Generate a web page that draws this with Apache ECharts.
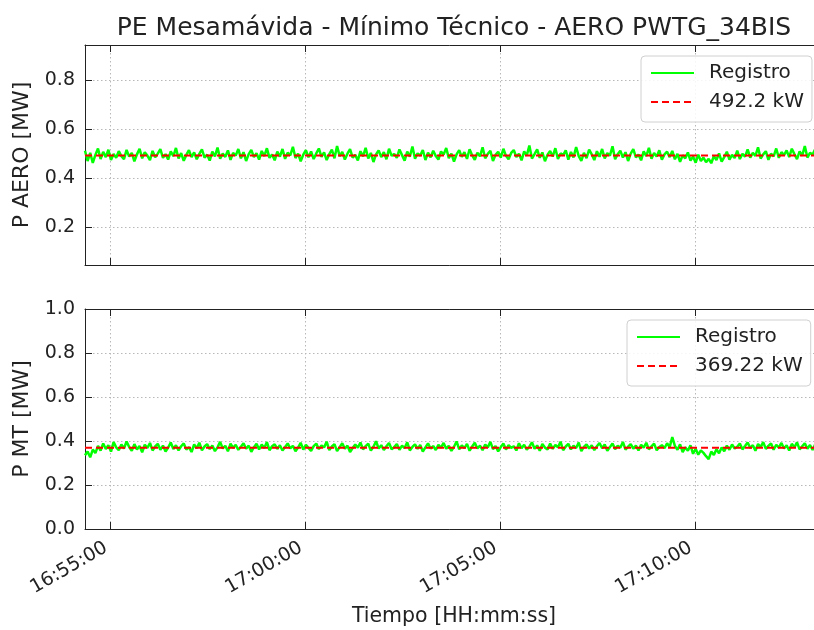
<!DOCTYPE html>
<html>
<head>
<meta charset="utf-8">
<script src="https://cdn.jsdelivr.net/npm/echarts@6/dist/echarts.min.js"></script>
<style>html,body{margin:0;padding:0;background:#fff}#c{width:814px;height:630px}</style>
</head>
<body>
<div id="c"></div>
<script>
// ---- data ----
const titleText = 'PE Mesamávida - Mínimo Técnico - AERO PWTG_34BIS';
const startTime = '16:54:21';
const stepSeconds = 4;
const xMinTime = '16:54:21';
const xMaxTime = '17:13:17';
const xTickLabels = ['16:55:00', '17:00:00', '17:05:00', '17:10:00'];
const yTicksTop = [0.2, 0.4, 0.6, 0.8];
const yTicksBottom = [0.0, 0.2, 0.4, 0.6, 0.8, 1.0];
const meanAero = 0.4922;
const meanMT = 0.36922;
const legendAero = '492.2 kW';
const legendMT = '369.22 kW';
const pAero = [
0.512,0.470,0.503,0.462,0.495,0.521,0.478,0.507,0.486,0.516,0.474,0.499,0.483,0.510,0.490,
0.478,0.515,0.488,0.503,0.469,0.497,0.520,0.481,0.506,0.492,0.474,0.511,0.485,0.500,0.518,
0.483,0.498,0.476,0.509,0.490,0.523,0.480,0.502,0.471,0.495,0.514,0.486,0.505,0.477,0.499,
0.517,0.484,0.496,0.472,0.508,0.489,0.525,0.479,0.500,0.487,0.513,0.475,0.503,0.492,0.519,
0.481,0.506,0.470,0.498,0.515,0.486,0.502,0.476,0.511,0.490,0.522,0.483,0.497,0.473,0.508,
0.488,0.519,0.479,0.504,0.493,0.528,0.482,0.500,0.469,0.496,0.514,0.485,0.509,0.478,0.501,
0.521,0.487,0.505,0.474,0.498,0.516,0.481,0.531,0.490,0.507,0.476,0.500,0.518,0.484,0.495,
0.472,0.510,0.489,0.524,0.480,0.503,0.466,0.497,0.513,0.486,0.506,0.477,0.520,0.491,0.499,
0.483,0.517,0.494,0.471,0.508,0.488,0.529,0.479,0.501,0.492,0.515,0.474,0.504,0.485,0.512,
0.490,0.476,0.509,0.496,0.523,0.482,0.500,0.468,0.497,0.514,0.487,0.506,0.479,0.518,0.493,
0.475,0.504,0.489,0.526,0.481,0.499,0.512,0.470,0.495,0.508,0.484,0.520,0.491,0.477,0.503,
0.515,0.486,0.500,0.473,0.509,0.492,0.533,0.480,0.498,0.517,0.483,0.505,0.469,0.496,0.511,
0.488,0.522,0.478,0.501,0.494,0.513,0.476,0.507,0.485,0.527,0.490,0.471,0.503,0.482,0.516,
0.497,0.474,0.510,0.487,0.519,0.481,0.502,0.492,0.530,0.477,0.498,0.512,0.484,0.506,0.470,
0.500,0.518,0.485,0.496,0.473,0.509,0.490,0.524,0.479,0.503,0.488,0.514,0.475,0.497,0.508,
0.486,0.511,0.477,0.499,0.467,0.493,0.481,0.505,0.472,0.488,0.463,0.496,0.470,0.484,0.465,
0.479,0.461,0.490,0.474,0.501,0.468,0.486,0.508,0.476,0.495,0.482,0.512,0.478,0.499,0.488,
0.517,0.484,0.503,0.491,0.526,0.480,0.497,0.510,0.475,0.500,0.489,0.521,0.483,0.506,0.494,
0.513,0.486,0.520,0.498,0.478,0.509,0.492,0.531,0.484,0.503,0.496,0.518,0.481,0.507,0.500
];
const pMT = [
0.335,0.352,0.326,0.361,0.345,0.378,0.356,0.389,0.364,0.381,0.352,0.395,0.371,0.358,0.384,
0.366,0.398,0.373,0.355,0.386,0.362,0.377,0.349,0.383,0.368,0.391,0.357,0.375,0.387,0.360,
0.379,0.352,0.370,0.393,0.364,0.381,0.357,0.376,0.389,0.361,0.372,0.350,0.384,0.367,0.392,
0.358,0.375,0.386,0.363,0.380,0.354,0.371,0.396,0.366,0.378,0.353,0.388,0.369,0.382,0.360,
0.374,0.390,0.365,0.379,0.351,0.372,0.387,0.362,0.384,0.368,0.395,0.358,0.376,0.385,0.364,
0.381,0.357,0.373,0.389,0.366,0.378,0.353,0.370,0.392,0.361,0.383,0.369,0.355,0.377,0.388,
0.363,0.380,0.371,0.397,0.359,0.375,0.386,0.354,0.372,0.390,0.365,0.379,0.350,0.368,0.384,
0.370,0.393,0.362,0.377,0.388,0.356,0.374,0.399,0.366,0.381,0.359,0.376,0.391,0.363,0.372,
0.386,0.360,0.379,0.368,0.394,0.357,0.373,0.385,0.364,0.382,0.352,0.371,0.389,0.366,0.377,
0.359,0.383,0.370,0.391,0.365,0.378,0.355,0.374,0.398,0.362,0.380,0.368,0.387,0.356,0.375,
0.392,0.366,0.379,0.358,0.384,0.371,0.396,0.363,0.377,0.353,0.372,0.389,0.361,0.381,0.369,
0.376,0.357,0.390,0.367,0.383,0.360,0.374,0.394,0.365,0.380,0.356,0.386,0.370,0.362,0.388,
0.364,0.382,0.371,0.397,0.358,0.375,0.387,0.362,0.379,0.368,0.393,0.354,0.373,0.385,0.366,
0.380,0.359,0.376,0.391,0.367,0.384,0.355,0.372,0.389,0.363,0.378,0.369,0.396,0.361,0.374,
0.386,0.365,0.379,0.357,0.383,0.370,0.392,0.362,0.376,0.388,0.358,0.373,0.381,0.367,0.390,
0.372,0.418,0.378,0.360,0.385,0.349,0.371,0.356,0.380,0.342,0.365,0.338,0.357,0.346,0.331,
0.318,0.352,0.336,0.363,0.344,0.371,0.353,0.379,0.360,0.384,0.366,0.374,0.389,0.362,0.377,
0.393,0.368,0.381,0.356,0.386,0.372,0.395,0.364,0.378,0.389,0.360,0.383,0.370,0.391,0.366,
0.380,0.357,0.387,0.371,0.394,0.362,0.376,0.390,0.365,0.382,0.359,0.385,0.373,0.396,0.368
];

// ---- helpers ----
function toSec(hms) { const p = hms.split(':').map(Number); return p[0]*3600 + p[1]*60 + p[2]; }
function pad(n) { return (n < 10 ? '0' : '') + n; }
function fmt(sec) { sec = Math.round(sec); return pad(Math.floor(sec/3600)) + ':' + pad(Math.floor(sec/60)%60) + ':' + pad(sec%60); }

const t0 = toSec(startTime);
const xMin = toSec(xMinTime), xMax = toSec(xMaxTime);
const xTicks = xTickLabels.map(toSec);
const aeroData = pAero.map((v, i) => [t0 + i*stepSeconds, v]);
const mtData = pMT.map((v, i) => [t0 + i*stepSeconds, v]);

const FONT = 'DejaVu Sans';
const AX = '#222';
const gridLine = { show: true, lineStyle: { color: '#b8b8b8', type: [1.5, 2.5], width: 1 } };

function xAxisDef(gridIndex, position, labels) {
  return {
    type: 'value', gridIndex, position, min: xMin, max: xMax,
    axisLine: { show: true, onZero: false, lineStyle: { color: AX, width: 1 } },
    axisTick: { show: true, inside: true, length: 7, customValues: xTicks, lineStyle: { color: AX } },
    axisLabel: labels ? { show: true, customValues: xTicks, rotate: 30, margin: 15, padding: [0, 5, 0, 0], fontFamily: FONT, fontSize: 19, color: '#222', formatter: v => fmt(v) } : { show: false, customValues: xTicks },
    splitLine: position === 'bottom' ? gridLine : { show: false }
  };
}
function yAxisDef(gridIndex, min, max, ticks) {
  return {
    type: 'value', gridIndex, min, max,
    axisLine: { show: true, onZero: false, lineStyle: { color: AX, width: 1 } },
    axisTick: { show: true, inside: true, length: 7, customValues: ticks, lineStyle: { color: AX } },
    axisLabel: { show: true, customValues: ticks, margin: 10, fontFamily: FONT, fontSize: 19, color: '#222', formatter: v => v.toFixed(1) },
    splitLine: gridLine
  };
}
function legendDef(left, top, names) {
  return {
    left, top, orient: 'vertical', data: names,
    itemWidth: 43, itemHeight: 16, itemGap: 9,
    padding: [7, 8, 10, 9],
    backgroundColor: 'rgba(255,255,255,0.85)', borderColor: '#d0d0d0', borderWidth: 1, borderRadius: 4,
    itemStyle: { opacity: 0 },
    textStyle: { fontFamily: FONT, fontSize: 20, color: '#222', padding: [0, 0, 0, 10] }
  };
}

const option = {
  animation: false,
  backgroundColor: '#fff',
  title: { text: titleText, left: 449, textAlign: 'center', top: 11, textStyle: { fontFamily: FONT, fontSize: 25, fontWeight: 'normal', color: '#222' } },
  grid: [
    { left: 85, width: 738, top: 45, height: 220, outerBoundsMode: 'none', containLabel: false },
    { left: 85, width: 738, top: 309, height: 220, outerBoundsMode: 'none', containLabel: false }
  ],
  xAxis: [
    xAxisDef(0, 'bottom', false),
    xAxisDef(0, 'top', false),
    xAxisDef(1, 'bottom', true),
    xAxisDef(1, 'top', false)
  ],
  yAxis: [
    yAxisDef(0, 0.047, 0.942, yTicksTop),
    yAxisDef(1, 0, 1, yTicksBottom)
  ],
  legend: [
    legendDef(641, 56, ['Registro', legendAero]),
    legendDef(627, 320, ['Registro', legendMT])
  ],
  series: [
    { name: 'Registro', type: 'line', xAxisIndex: 0, yAxisIndex: 0, data: aeroData, showSymbol: false, symbol: 'none', lineStyle: { color: '#00ff00', width: 2.5 }, itemStyle: { color: '#00ff00' } },
    { name: legendAero, type: 'line', xAxisIndex: 0, yAxisIndex: 0, data: [[xMin, meanAero], [xMax, meanAero]], showSymbol: false, symbol: 'none', lineStyle: { color: '#ff0000', width: 2, type: [7, 4] }, itemStyle: { color: '#ff0000' }, z: 3 },
    { name: 'Registro', type: 'line', xAxisIndex: 2, yAxisIndex: 1, data: mtData, showSymbol: false, symbol: 'none', lineStyle: { color: '#00ff00', width: 2.5 }, itemStyle: { color: '#00ff00' } },
    { name: legendMT, type: 'line', xAxisIndex: 2, yAxisIndex: 1, data: [[xMin, meanMT], [xMax, meanMT]], showSymbol: false, symbol: 'none', lineStyle: { color: '#ff0000', width: 2, type: [7, 4] }, itemStyle: { color: '#ff0000' }, z: 3 }
  ],
  graphic: [
    { type: 'text', x: 22, y: 155, rotation: Math.PI/2, style: { text: 'P AERO [MW]', font: '22px "DejaVu Sans"', fill: '#222', align: 'center', verticalAlign: 'middle' } },
    { type: 'text', x: 22, y: 419, rotation: Math.PI/2, style: { text: 'P MT [MW]', font: '22px "DejaVu Sans"', fill: '#222', align: 'center', verticalAlign: 'middle' } },
    { type: 'text', x: 454, y: 617, style: { text: 'Tiempo [HH:mm:ss]', font: '20.5px "DejaVu Sans"', fill: '#222', align: 'center', verticalAlign: 'middle' } }
  ]
};
const chart = echarts.init(document.getElementById('c'), null, { renderer: 'canvas' });
chart.setOption(option);
</script>
</body>
</html>
